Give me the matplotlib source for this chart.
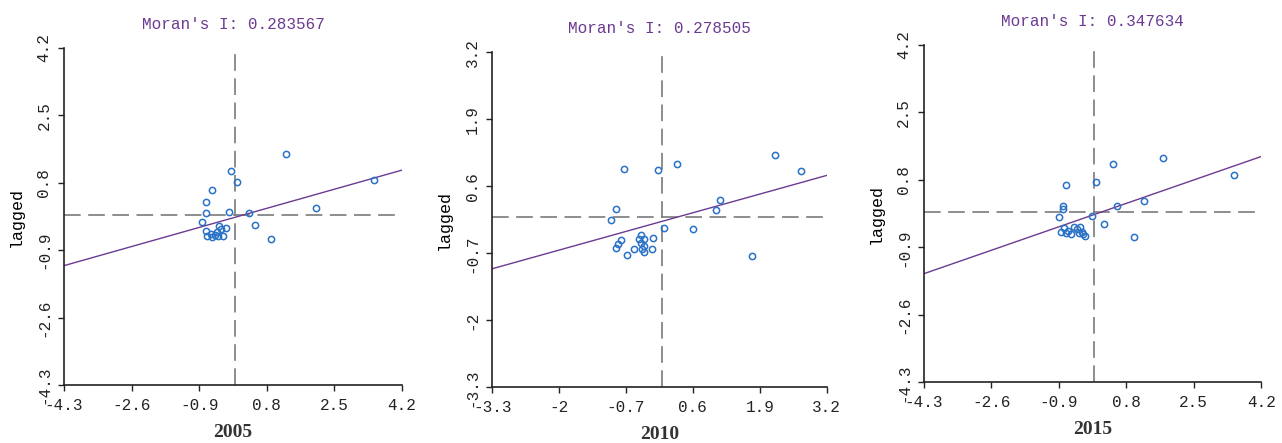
import numpy as np
import matplotlib
matplotlib.use("Agg")
import matplotlib.pyplot as plt

plt.rcParams["axes.unicode_minus"] = False

# Panel data: standardized value (x) and spatial lag (y)
years = ["2005", "2010", "2015"]
morans_i = ["0.283567", "0.278505", "0.347634"]

x_2005 = [1.28, -0.10, 0.04, 3.49, 2.03, 0.90, -0.59, -0.73, -0.73, -0.14, 0.36,
          -0.84, 0.51, -0.39, -0.74, -0.61, -0.71, -0.50, -0.46, -0.36, -0.31,
          -0.42, -0.59, -0.23]
y_2005 = [1.52, 1.10, 0.82, 0.86, 0.17, -0.62, 0.63, 0.31, 0.04, 0.07, 0.04,
          -0.19, -0.26, -0.30, -0.42, -0.48, -0.53, -0.51, -0.45, -0.36, -0.53,
          -0.55, -0.56, -0.35]

x_2010 = [2.20, 2.70, 0.30, -0.07, -0.73, 1.13, 1.05, 0.60, 1.74, -0.89, -1.00,
          0.04, -0.80, -0.85, -0.89, -0.68, -0.54, -0.41, -0.44, -0.36, -0.40,
          -0.36, -0.38, -0.35, -0.17, -0.20]
y_2010 = [1.21, 0.89, 1.03, 0.92, 0.94, 0.34, 0.15, -0.22, -0.76, 0.16, -0.05,
          -0.21, -0.44, -0.52, -0.59, -0.73, -0.62, -0.34, -0.42, -0.42, -0.50,
          -0.55, -0.62, -0.68, -0.41, -0.62]

x_2015 = [3.52, 1.72, 0.46, 0.05, -0.72, 1.25, 0.56, -0.79, -0.80, -0.07, -0.89,
          0.24, 1.00, -0.83, -0.77, -0.66, -0.60, -0.72, -0.52, -0.45, -0.37,
          -0.32, -0.28, -0.24, -0.38]
y_2015 = [0.92, 1.36, 1.19, 0.76, 0.67, 0.26, 0.14, 0.14, 0.06, -0.11, -0.14,
          -0.31, -0.64, -0.50, -0.42, -0.48, -0.56, -0.54, -0.39, -0.44, -0.39,
          -0.50, -0.56, -0.61, -0.54]

# regression line (slope = Moran's I)
slopes = [0.283567, 0.278505, 0.347634]
intercepts = [-0.07, -0.08, -0.07]

ticks_2005 = [-4.3, -2.6, -0.9, 0.8, 2.5, 4.2]
ticks_2010 = [-3.3, -2.0, -0.7, 0.6, 1.9, 3.2]
ticks_2015 = [-4.3, -2.6, -0.9, 0.8, 2.5, 4.2]
labels_2005 = ["-4.3", "-2.6", "-0.9", "0.8", "2.5", "4.2"]
labels_2010 = ["-3.3", "-2", "-0.7", "0.6", "1.9", "3.2"]
labels_2015 = ["-4.3", "-2.6", "-0.9", "0.8", "2.5", "4.2"]

xs = [x_2005, x_2010, x_2015]
ys = [y_2005, y_2010, y_2015]
ticks = [ticks_2005, ticks_2010, ticks_2015]
labels = [labels_2005, labels_2010, labels_2015]

# axes boxes in figure fractions
positions = [[0.0499, 0.1309, 0.2637, 0.7607],
             [0.3840, 0.1257, 0.2608, 0.7562],
             [0.7205, 0.1370, 0.2633, 0.7614]]

fig = plt.figure(figsize=(12.82, 4.43), dpi=100)

mono = "Liberation Mono"
purple = "#6b3a92"
blue = "#2a72c6"
grey = "#7a7a7a"

for i in range(3):
    ax = fig.add_axes(positions[i])
    t = ticks[i]
    lo, hi = t[0], t[-1]

    ax.axhline(0, color=grey, lw=1.2, dashes=(10, 4.5), zorder=1)
    ax.axvline(0, color=grey, lw=1.2, dashes=(10, 4.5), zorder=1)

    lx = np.array([lo, hi])
    ax.plot(lx, slopes[i] * lx + intercepts[i], color=purple, lw=1.0, zorder=2)

    ax.plot(xs[i], ys[i], "o", mfc="none", mec=blue, mew=1.1, ms=4.5, zorder=3)

    ax.set_xlim(lo, hi)
    ax.set_ylim(lo, hi)
    ax.set_xticks(t)
    ax.set_yticks(t)
    ax.set_xticklabels(labels[i], family=mono, fontsize=11.5)
    ax.set_yticklabels(labels[i], family=mono, fontsize=11.5, rotation=90, va="center")

    for s in ["top", "right"]:
        ax.spines[s].set_visible(False)
    for s in ["left", "bottom"]:
        ax.spines[s].set_linewidth(1.2)
        ax.spines[s].set_color("#222222")
    ax.tick_params(direction="out", length=4, width=1.0, pad=5, colors="#222222")

    ax.set_title("Moran's I: " + morans_i[i], family=mono, fontsize=11.5,
                 color=purple, pad=14)
    ax.set_xlabel(years[i], family="Liberation Serif", fontsize=14,
                  fontweight="bold", color="#333333", labelpad=8)
    ax.set_ylabel("lagged", family=mono, fontsize=12, labelpad=9)

fig.savefig("out.png", dpi=100)
